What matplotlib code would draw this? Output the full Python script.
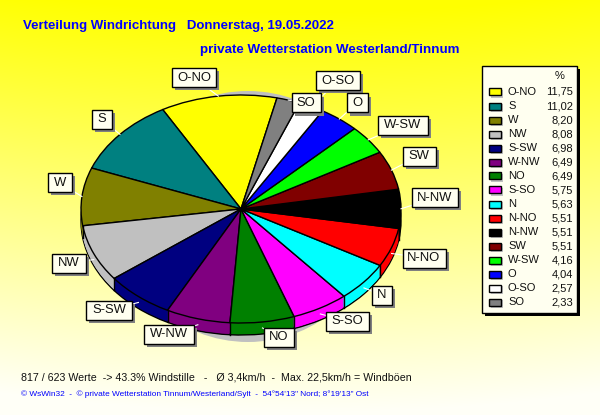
import numpy as np
import matplotlib
matplotlib.use("Agg")
import matplotlib.pyplot as plt
from matplotlib.patches import Rectangle, Ellipse

W, H = 600, 415
labels = ["O-NO","S","W","NW","S-SW","W-NW","NO","S-SO","N","N-NO","N-NW","SW","W-SW","O","O-SO","SO"]
values = [11.75,11.02,8.20,8.08,6.98,6.49,6.49,5.75,5.63,5.51,5.51,5.51,4.16,4.04,2.57,2.33]
value_text = ["11,75","11,02","8,20","8,08","6,98","6,49","6,49","5,75","5,63","5,51","5,51","5,51","4,16","4,04","2,57","2,33"]
colors = ["#ffff00","#008080","#808000","#c0c0c0","#000080","#800080","#008000","#ff00ff","#00ffff","#ff0000","#000000","#800000","#00ff00","#0000ff","#ffffff","#808080"]
label_box = {"O-NO":(194,78),"S":(102,119),"W":(60,183),"NW":(69,263),"S-SW":(109,310),"W-NW":(169,334),"NO":(279,337),
             "S-SO":(347,321),"N":(382,295),"N-NO":(424,258),"N-NW":(435,198),"SW":(419,156),"W-SW":(403,125),"O":(357,103),"O-SO":(338,81),"SO":(306,103)}
box_width = {"O-NO":44,"S":20,"W":24,"NW":34,"S-SW":46,"W-NW":50,"NO":30,"S-SO":43,"N":20,"N-NO":43,"N-NW":46,"SW":33,"W-SW":50,"O":21,"O-SO":44,"SO":29}

plt.rcParams["font.family"] = ["Liberation Sans", "DejaVu Sans"]
fig = plt.figure(figsize=(W/100, H/100), dpi=100)

bg = fig.add_axes([0, 0, 1, 1])
bg.set_xlim(0, W); bg.set_ylim(H, 0); bg.axis("off")
yy, xx = np.mgrid[0:H, 0:W]
u = np.clip((yy - 12 + 0.00022*(xx-300)**2) / 400, 0, 1)
img = np.ones((H, W, 3)); img[..., 2] = u*0.97
bg.imshow(img, extent=(0, W, H, 0), aspect="auto", zorder=0)
bg.set_xlim(0, W); bg.set_ylim(H, 0)

cx, cy, a, b, depth = 241, 209, 160, 114, 12
bg.add_patch(Ellipse((248, 216.5), 260, 251, fc="#c0c0c0", ec="none", zorder=1))

def pie_axes(dy, z):
    ax = fig.add_axes([(cx-a)/W, 1-(cy+dy+b)/H, 2*a/W, 2*b/H], zorder=z)
    ax.patch.set_visible(False)
    return ax

for i, dy in enumerate(range(depth, 0, -1)):
    ax = pie_axes(dy, 2+i)
    ec = "black" if dy == depth else "none"
    ax.pie(values, colors=colors, startangle=77, counterclock=True, radius=1,
           wedgeprops=dict(linewidth=1.0 if dy == depth else 0, edgecolor=ec), normalize=True)
    ax.set_aspect("auto"); ax.set_xlim(-1, 1); ax.set_ylim(-1, 1); ax.axis("off")

ax = pie_axes(0, 30)
ax.pie(values, colors=colors, startangle=77, counterclock=True, radius=1,
       wedgeprops=dict(linewidth=1.0, edgecolor="black"), normalize=True)
ax.set_aspect("auto"); ax.set_xlim(-1, 1); ax.set_ylim(-1, 1); ax.axis("off")

ov = fig.add_axes([0, 0, 1, 1], zorder=40)
ov.set_xlim(0, W); ov.set_ylim(H, 0); ov.axis("off"); ov.patch.set_visible(False)

edges = 77 + np.cumsum(values)/sum(values)*360
for t in np.radians(edges):
    if np.sin(t) < 0:
        x = cx + a*np.cos(t); y = cy - b*np.sin(t)
        ov.plot([x, x], [y, y+depth], color="black", lw=1.0)

mids = 77 + (np.cumsum(values) - np.array(values)/2)/sum(values)*360
for lab, mid in zip(labels, mids):
    bx, by = label_box[lab]
    t = np.radians(mid)
    px, py = cx + a*np.cos(t), cy - b*np.sin(t) + (depth/2 if np.sin(t) < 0 else 0)
    ov.plot([px, bx], [py, by], color="white", lw=0.8, zorder=1)
    ov.text(bx, by, lab, fontsize=9.4, ha="center", va="center", color="#101010", zorder=4)
    w, h = box_width[lab], 19
    ov.add_patch(Rectangle((bx-w/2+3, by-h/2+3), w, h, fc="#808080", ec="none", zorder=2))
    ov.add_patch(Rectangle((bx-w/2, by-h/2), w, h, fc="#fffff0", ec="black", lw=1.0, zorder=3))

ov.text(23, 26, "Verteilung Windrichtung   Donnerstag, 19.05.2022", color="#0000ff", fontsize=9.5, fontweight="bold", va="center")
ov.text(200, 50, "private Wetterstation Westerland/Tinnum", color="#0000ff", fontsize=9.6, fontweight="bold", va="center")
ov.text(21, 377, "817 / 623 Werte  -> 43.3% Windstille   -   \u00d8 3,4km/h  -  Max. 22,5km/h = Windb\u00f6en", color="#101010", fontsize=7.65, va="center")
ov.text(21, 394, "\u00a9 WsWin32  -  \u00a9 private Wetterstation Tinnum/Westerland/Sylt  -  54\u00b054'13\" Nord; 8\u00b019'13\" Ost", color="#0000ff", fontsize=5.93, va="center")

ov.add_patch(Rectangle((484.5, 69), 95.5, 247, fc="black", ec="none", zorder=1))
ov.add_patch(Rectangle((481.5, 66), 95.5, 247, fc="#fffff0", ec="black", lw=1.0, zorder=2))
ov.text(560, 76, "%", fontsize=8, ha="center", va="center", color="#101010", zorder=3)
for i, (lab, vt, c) in enumerate(zip(labels, value_text, colors)):
    y = 92 + i*14
    ov.add_patch(Rectangle((491, y-2), 12, 8, fc="#c0c0c0", ec="none", zorder=3))
    ov.add_patch(Rectangle((488.5, y-3.5), 12, 7, fc=c, ec="black", lw=1.0, zorder=4))
    ov.text(508, y, lab, fontsize=8, va="center", color="#101010", zorder=3)
    ov.text(573, y, vt, fontsize=8, va="center", ha="right", color="#101010", zorder=3)

fig.savefig("out.png", dpi=100)
